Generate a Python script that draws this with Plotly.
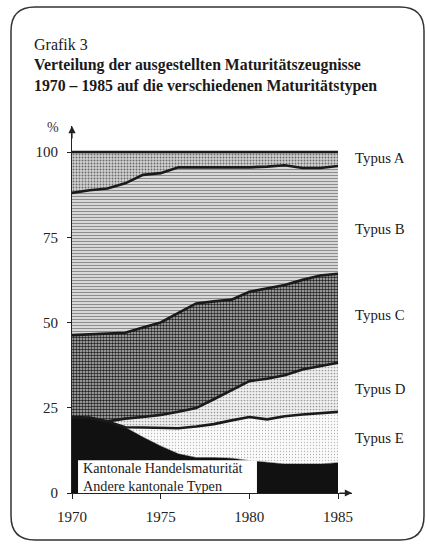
import plotly.graph_objects as go

years = list(range(1970, 1986))
# shares in percent (stacked bottom to top)
kantonal = [22.3, 22.1, 21.0, 19.3, 16.4, 13.8, 11.5, 10.4, 10.4, 10.2, 9.5, 9.0, 8.5, 8.5, 8.5, 8.9]
typus_e = [0, 0, 0, 0, 2.8, 5.2, 7.5, 9.1, 9.8, 11.1, 12.8, 12.6, 14.0, 14.5, 14.8, 14.9]
typus_d = [0, 0, 0, 2.5, 3.1, 3.9, 4.8, 5.4, 7.3, 8.9, 10.5, 11.9, 12.0, 13.2, 14.0, 14.4]
typus_c = [24.0, 24.4, 25.6, 25.2, 26.2, 27.1, 29.0, 30.7, 28.7, 26.5, 26.2, 26.5, 26.5, 26.3, 26.5, 26.1]
typus_b = [41.7, 42.3, 42.7, 43.8, 44.8, 43.8, 42.7, 39.9, 39.2, 38.7, 36.5, 35.7, 35.1, 32.8, 31.5, 31.6]
typus_a = [12.0, 11.2, 10.7, 9.2, 6.7, 6.2, 4.5, 4.5, 4.6, 4.6, 4.5, 4.3, 3.9, 4.7, 4.7, 4.1]

type_labels = ["Typus A", "Typus B", "Typus C", "Typus D", "Typus E"]
type_label_y = [98.2, 77.4, 52.2, 30.5, 16.1]
legend_lines = ["Kantonale Handelsmaturität", "Andere kantonale Typen"]
title_lines = ["Verteilung der ausgestellten Maturitätszeugnisse",
               "1970 – 1985 auf die verschiedenen Maturitätstypen"]
x_ticks = [1970, 1975, 1980, 1985]
y_ticks = [0, 25, 50, 75, 100]

FONT = "Liberation Serif"
W, H = 427, 545
L, R, T, B = 72, 75, 126, 52
PW, PH = W - L - R, H - T - B


def px(x):
    return (x - L) / PW


def py(y):
    return (H - B - y) / PH


fig = go.Figure()

series = [
    ("Kantonal", kantonal, dict(shape="", bgcolor="#111111", fgcolor="#111111"), 0),
    ("Typus E", typus_e, dict(shape=".", bgcolor="#fbfbfb", fgcolor="#b8b8b8", size=3, solidity=0.15), 2.6),
    ("Typus D", typus_d, dict(shape=".", bgcolor="#f0f0f0", fgcolor="#9a9a9a", size=3, solidity=0.25), 2.6),
    ("Typus C", typus_c, dict(shape=".", bgcolor="#c0c0c0", fgcolor="#222222", size=3, solidity=0.55), 2.6),
    ("Typus B", typus_b, dict(shape="-", bgcolor="#e8e8e8", fgcolor="#8c8c8c", size=3, solidity=0.45), 2.6),
    ("Typus A", typus_a, dict(shape=".", bgcolor="#d4d4d4", fgcolor="#6a6a6a", size=3, solidity=0.35), 2.6),
]

for name, vals, pat, lw in series:
    kw = {}
    if pat["shape"]:
        kw["fillpattern"] = dict(fillmode="replace", **pat)
    fig.add_trace(go.Scatter(
        x=years, y=vals, name=name, mode="lines", stackgroup="one",
        fillcolor=pat["bgcolor"],
        line=dict(color="#1a1a1a", width=lw if lw else 0.5),
        hoverinfo="skip", **kw))

# legend box for the black area
fig.add_shape(type="rect", xref="x", yref="y", x0=1970.34, x1=1980.43, y0=0, y1=9.6,
              fillcolor="white", line=dict(width=0), layer="above")
fig.add_annotation(x=1970.5, y=4.7, xref="x", yref="y", text="<br>".join(legend_lines),
                   showarrow=False, xanchor="left", yanchor="middle", align="left",
                   font=dict(family=FONT, size=14.2, color="#1a1a1a"))

for t, yv in zip(type_labels, type_label_y):
    fig.add_annotation(x=px(353), y=yv, xref="paper", yref="y", text=t,
                       showarrow=False, xanchor="left", yanchor="middle",
                       font=dict(family=FONT, size=14.8, color="#1a1a1a"))

# titles
fig.add_annotation(x=px(32), y=py(45), xref="paper", yref="paper", text="Grafik 3",
                   showarrow=False, xanchor="left", yanchor="middle",
                   font=dict(family=FONT, size=16, color="#1a1a1a"))
fig.add_annotation(x=px(32), y=py(75), xref="paper", yref="paper",
                   text="<br>".join(f"<b>{t}</b>" for t in title_lines),
                   showarrow=False, xanchor="left", yanchor="middle", align="left",
                   font=dict(family=FONT, size=15.8, color="#1a1a1a"))
fig.add_annotation(x=px(53), y=py(128), xref="paper", yref="paper", text="%",
                   showarrow=False, xanchor="center", yanchor="middle",
                   font=dict(family=FONT, size=14, color="#333333"))

# axis arrows
fig.add_annotation(x=0, y=1, xref="paper", yref="paper", ax=0, ay=14, text="",
                   showarrow=True, arrowhead=2, arrowsize=1.2, arrowwidth=1.2, arrowcolor="#222")
fig.add_annotation(x=1, y=0, xref="paper", yref="paper", ax=-14, ay=0, text="",
                   showarrow=True, arrowhead=2, arrowsize=1.2, arrowwidth=1.2, arrowcolor="#222")

# rounded frame
x0, x1, y0, y1 = px(11), px(424), py(540), py(7)
rx, ry = 24 / PW, 24 / PH
path = (f"M {x0+rx},{y1} L {x1-rx},{y1} Q {x1},{y1} {x1},{y1-ry} "
        f"L {x1},{y0+ry} Q {x1},{y0} {x1-rx},{y0} L {x0+rx},{y0} "
        f"Q {x0},{y0} {x0},{y0+ry} L {x0},{y1-ry} Q {x0},{y1} {x0+rx},{y1} Z")
fig.add_shape(type="path", xref="paper", yref="paper", path=path,
              line=dict(color="#333333", width=1.5), layer="below")

fig.update_layout(
    width=W, height=H, margin=dict(l=L, r=R, t=T, b=B),
    paper_bgcolor="white", plot_bgcolor="white", showlegend=False,
    font=dict(family=FONT, color="#1a1a1a"),
)
fig.update_xaxes(range=[1970, 1970 + 15 * PW / 266], tickvals=x_ticks, ticks="outside",
                 ticklen=5, tickcolor="#222", showline=True, linecolor="#222", linewidth=1.2,
                 showgrid=False, zeroline=False, tickfont=dict(family=FONT, size=15, color="#222"),
                 ticklabelstandoff=5)
fig.update_yaxes(range=[0, 100 * PH / 341], tickvals=y_ticks, ticks="outside",
                 ticklen=4, tickcolor="#222", showline=True, linecolor="#222", linewidth=1.2,
                 showgrid=False, zeroline=False, tickfont=dict(family=FONT, size=15, color="#222"),
                 ticklabelstandoff=6)

fig.write_html("out.html", config={"displayModeBar": False},
               post_script="document.body.style.margin='0';document.body.style.overflow='hidden';")
